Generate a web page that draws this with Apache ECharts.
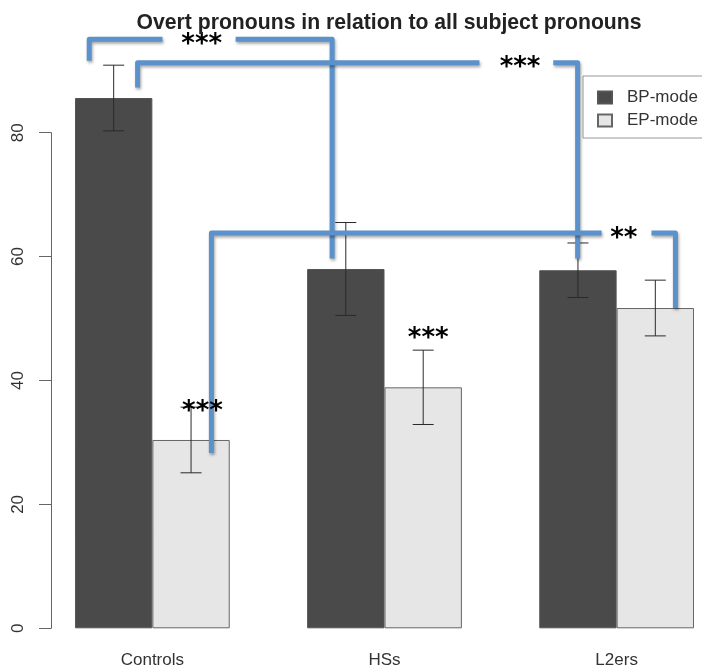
<!DOCTYPE html>
<html>
<head>
<meta charset="utf-8">
<script src="https://cdn.jsdelivr.net/npm/echarts@6/dist/echarts.min.js"></script>
<style>html,body{margin:0;padding:0;background:#fff}#c{width:702px;height:670px}</style>
</head>
<body>
<div id="c"></div>
<script>
// ---- data ----
const title = 'Overt pronouns in relation to all subject pronouns';
const categories = ['Controls', 'HSs', 'L2ers'];
const seriesNames = ['BP-mode', 'EP-mode'];
const bpMeans = [85.6, 58.0, 57.8];
const epMeans = [30.4, 38.9, 51.7];
const bpErr = [5.3, 7.5, 4.4];
const epErr = [5.3, 6.0, 4.5];
const yTicks = [0, 20, 40, 60, 80];
// significance brackets: points as [bar unit along x, value]
const bracketA = [[[1.184, 91.6], [1.184, 95.1], [2.131, 95.1]], [[3.076, 95.1], [4.323, 95.1], [4.323, 59.7]]];
const bracketB = [[[1.809, 87.3], [1.809, 91.3], [6.227, 91.3]], [[7.181, 91.3], [7.496, 91.3], [7.496, 59.7]]];
const bracketC = [[[2.763, 28.3], [2.763, 63.8], [7.806, 63.8]], [[8.450, 63.8], [8.760, 63.8], [8.760, 51.7]]];
const sigLabels = [
  ['***', 2.638, 95.1],
  ['***', 6.752, 91.3],
  ['**', 8.093, 63.8],
  ['***', 2.647, 35.9],
  ['***', 5.565, 47.6]
];

const errData = [];
for (let i = 0; i < categories.length; i++) {
  errData.push([i, 0, bpMeans[i], bpErr[i]]);
  errData.push([i, 1, epMeans[i], epErr[i]]);
}

const chart = echarts.init(document.getElementById('c'), null, {renderer: 'canvas'});
const FONT = 'Liberation Sans, Arial, Helvetica, sans-serif';
const BLUE = '#5b92cc';

function unitToPx(api, u, v) {
  const c0 = api.coord([0, v]);
  const bw = api.size([1, 0])[0] / 3;
  return [c0[0] + (u - 2) * bw, c0[1]];
}

chart.setOption({
  animation: false,
  title: {
    text: title, left: 384, top: 8, textAlign: 'center',
    textStyle: {fontFamily: FONT, fontSize: 21.2, fontWeight: 'bold', color: '#222'}
  },
  legend: {
    data: seriesNames, orient: 'vertical', left: 583, top: 76,
    padding: [13, 30, 9, 14], itemGap: 6, itemWidth: 14, itemHeight: 12,
    borderColor: '#999', borderWidth: 1, icon: 'rect',
    textStyle: {fontFamily: FONT, fontSize: 17, color: '#333', padding: [0, 0, 0, 10]}
  },
  grid: [
    {left: 36.3, width: 696.4, top: 8.8, height: 619.5, outerBoundsMode: 'none', containLabel: false},
    {left: 51, width: 5, top: 132.7, height: 495.6, outerBoundsMode: 'none', containLabel: false}
  ],
  xAxis: [
    {type: 'category', data: categories, gridIndex: 0,
     axisLine: {show: false}, axisTick: {show: false},
     axisLabel: {fontFamily: FONT, fontSize: 17, color: '#333', margin: 24}},
    {type: 'value', gridIndex: 1, show: false}
  ],
  yAxis: [
    {type: 'value', gridIndex: 0, min: 0, max: 100, show: false},
    {type: 'value', gridIndex: 1, min: yTicks[0], max: yTicks[yTicks.length - 1], interval: 20,
     splitLine: {show: false},
     axisLine: {show: true, lineStyle: {color: '#666', width: 1}},
     axisTick: {show: true, length: 12, lineStyle: {color: '#666'}},
     axisLabel: {fontFamily: FONT, fontSize: 17, color: '#333', rotate: 90, margin: 24}}
  ],
  series: [
    {name: seriesNames[0], type: 'bar', data: bpMeans, barGap: '0%', barCategoryGap: '33.333%',
     itemStyle: {color: '#4a4a4a', borderColor: '#555', borderWidth: 1}, z: 2},
    {name: seriesNames[1], type: 'bar', data: epMeans, barGap: '0%', barCategoryGap: '33.333%',
     itemStyle: {color: '#e6e6e6', borderColor: '#666', borderWidth: 1}, z: 2},
    {type: 'custom', data: errData, encode: {x: 0, y: 2}, z: 3,
     renderItem: function (params, api) {
       const cat = api.value(0), s = api.value(1), m = api.value(2), e = api.value(3);
       const bw = api.size([1, 0])[0] / 3;
       const cx = api.coord([cat, m])[0] + (s === 0 ? -bw / 2 : bw / 2);
       const yt = api.coord([cat, m + e])[1];
       const yb = api.coord([cat, m - e])[1];
       const st = {stroke: '#2a2a2a', lineWidth: 1};
       return {type: 'group', children: [
         {type: 'line', shape: {x1: cx, y1: yt, x2: cx, y2: yb}, style: st},
         {type: 'line', shape: {x1: cx - 10.5, y1: yt, x2: cx + 10.5, y2: yt}, style: st},
         {type: 'line', shape: {x1: cx - 10.5, y1: yb, x2: cx + 10.5, y2: yb}, style: st}
       ]};
     }},
    {type: 'custom', data: [0], z: 5, silent: true,
     renderItem: function (params, api) {
       const children = [];
       [bracketA, bracketB, bracketC].forEach(function (br) {
         br.forEach(function (seg) {
           children.push({type: 'polyline',
             shape: {points: seg.map(function (p) { return unitToPx(api, p[0], p[1]); })},
             style: {stroke: BLUE, lineWidth: 5, fill: null, lineJoin: 'round', lineCap: 'butt',
               shadowColor: 'rgba(0,0,0,0.35)', shadowBlur: 3, shadowOffsetX: 1, shadowOffsetY: 2}});
         });
       });
       sigLabels.forEach(function (l) {
         const p = unitToPx(api, l[1], l[2]);
         children.push({type: 'text', x: p[0], y: p[1] + 6, z2: 10,
           style: {text: l[0], fill: '#000', fontSize: 26, fontWeight: 'bold',
             fontFamily: 'DejaVu Sans, sans-serif', align: 'center', verticalAlign: 'middle'}});
       });
       return {type: 'group', children: children};
     }}
  ]
});
</script>
</body>
</html>
